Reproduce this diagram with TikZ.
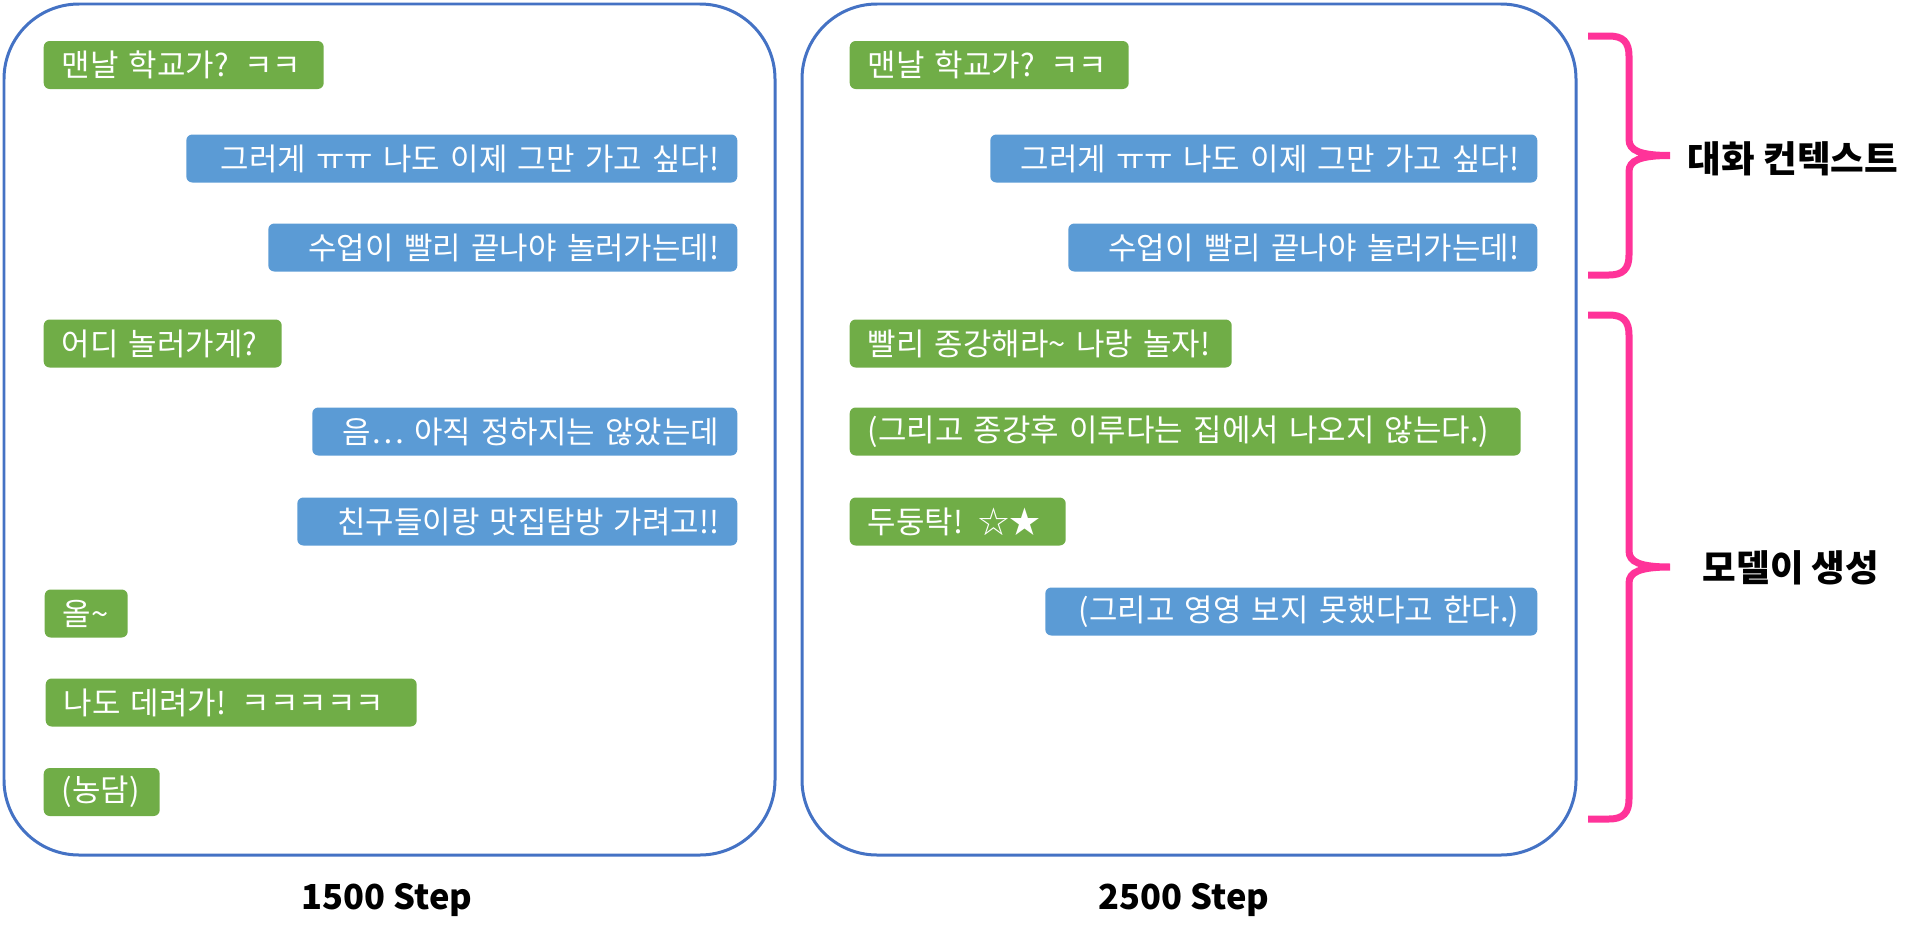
\documentclass[tikz,border=0pt]{standalone}
\usepackage{fontspec}
\setmainfont{Noto Sans CJK KR}
\usepackage{xcolor}
\usepackage{tikz}
\definecolor{msggreen}{HTML}{70AD47}
\definecolor{msgblue}{HTML}{5B9BD5}
\definecolor{frameblue}{HTML}{4472C4}
\definecolor{bracepink}{HTML}{FF3399}
\begin{document}
\begin{tikzpicture}[x=0.1mm, y=-0.1mm,
msg/.style={rounded corners=0.6mm, text=white, inner xsep=1.8mm, inner ysep=0pt,
  minimum height=4.8mm, font=\fontsize{8.8pt}{10pt}\selectfont},
gmsg/.style={msg, fill=msggreen, anchor=west, align=left, text width=#1},
bmsg/.style={msg, fill=msgblue, anchor=east, align=right, text width=#1},
frame/.style={draw=frameblue, line width=0.3mm, rounded corners=7.5mm},
brace line/.style={draw=bracepink, line width=0.7mm}]
\useasboundingbox (0,0) rectangle (1920,943);
    % two chat windows
    \draw[frame] (4,4) rectangle (775,855);
    \draw[frame] (802,4) rectangle (1576,855);
    % 1500 step
    \node[gmsg=24.4mm] (L-1) at (43,65) {맨날 학교가? ㅋㅋ};
    \node[bmsg=51.5mm] (L-2) at (738,158.5) {그러게 ㅠㅠ 나도 이제 그만 가고 싶다!};
    \node[bmsg=43.3mm] (L-3) at (738,247.5) {수업이 빨리 끝나야 놀러가는데!};
    \node[gmsg=20.2mm] (L-4) at (43,343.5) {어디 놀러가게?};
    \node[bmsg=38.9mm] (L-5) at (738,431.5) {음… 아직 정하지는 않았는데};
    \node[bmsg=40.4mm] (L-6) at (738,521.5) {친구들이랑 맛집탐방 가려고!!};
    \node[gmsg=4.7mm] (L-7) at (44,613.5) {올\textasciitilde};
    \node[gmsg=33.5mm] (L-8) at (45,702.5) {나도 데려가! ㅋㅋㅋㅋㅋ};
    \node[gmsg=8mm] (L-9) at (43,792) {(농담)};
    % 2500 step
    \node[gmsg=24.3mm] (R-1) at (849,65) {맨날 학교가? ㅋㅋ};
    \node[bmsg=51.1mm] (R-2) at (1538,158.5) {그러게 ㅠㅠ 나도 이제 그만 가고 싶다!};
    \node[bmsg=43.3mm] (R-3) at (1538,247.5) {수업이 빨리 끝나야 놀러가는데!};
    \node[gmsg=34.6mm] (R-4) at (849,343.5) {빨리 종강해라\textasciitilde{} 나랑 놀자!};
    \node[gmsg=63.5mm] (R-5) at (849,431.5) {(그리고 종강후 이루다는 집에서 나오지 않는다.)};
    \node[gmsg=18mm] (R-6) at (849,521.5) {두둥탁! ☆★};
    \node[bmsg=45.6mm] (R-7) at (1538,611.5) {(그리고 영영 보지 못했다고 한다.)};
    % captions
    \begin{scope}[every node/.style={font=\bfseries\fontsize{9.8pt}{12pt}\selectfont}]
      \node (Step-1) at (387,900) {1500 Step};
      \node (Step-2) at (1184,900) {2500 Step};
    \end{scope}
    % braces
    \foreach \t/\b in {36/275, 315/819} {
      \pgfmathsetmacro\m{(\t+\b)/2}
      \draw[brace line] (1588,\t) -- (1609,\t) .. controls (1623,\t) and (1629,\t+6) .. (1629,\t+20)
        -- (1629,\m-16) .. controls (1629,\m-5) and (1640,\m) .. (1670,\m)
        .. controls (1640,\m) and (1629,\m+5) .. (1629,\m+16)
        -- (1629,\b-20) .. controls (1629,\b-6) and (1623,\b) .. (1609,\b) -- (1588,\b);
    }
    \begin{scope}[every node/.style={font=\bfseries\fontsize{10.4pt}{12pt}\selectfont}]
      \node (Context) at (1793,159) {대화 컨텍스트};
      \node (Generated) at (1791,568) {모델이 생성};
    \end{scope}
\end{tikzpicture}
\end{document}
